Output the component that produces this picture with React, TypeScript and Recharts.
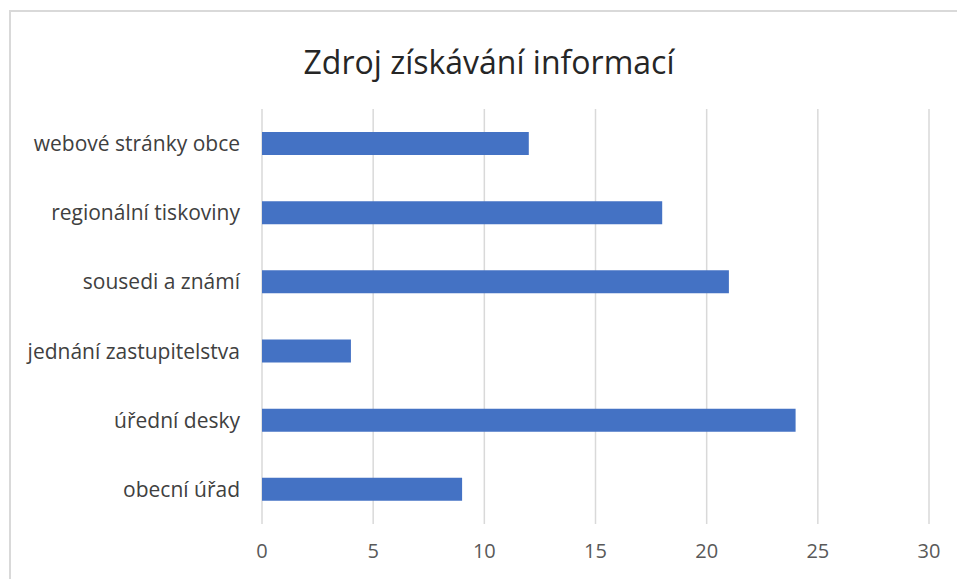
import React from 'react';
import { BarChart, Bar, XAxis, YAxis, CartesianGrid } from 'recharts';

const categories = [
  'webové stránky obce',
  'regionální tiskoviny',
  'sousedi a známí',
  'jednání zastupitelstva',
  'úřední desky',
  'obecní úřad',
];
const counts = [12, 18, 21, 4, 24, 9];
const xTicks = [0, 5, 10, 15, 20, 25, 30];

const data = categories.map((name, i) => ({ name, value: counts[i] }));

const font = '"Open Sans", Lato, sans-serif';

export default function App() {
  return (
    <div style={{ position: 'fixed', left: 0, top: 0, width: 957, height: 579, background: '#fff', overflow: 'hidden', fontFamily: font }}>
      <div
        style={{
          position: 'absolute',
          left: 9,
          top: 10,
          width: 1000,
          height: 700,
          border: '2px solid #d9d9d9',
          boxSizing: 'border-box',
        }}
      />
      <div
        style={{
          position: 'absolute',
          left: 0,
          width: 978,
          top: 40,
          textAlign: 'center',
          fontSize: 32,
          color: '#262626',
        }}
      >
        Zdroj získávání informací
      </div>
      <div style={{ position: 'absolute', left: 0, top: 0 }}>
        <BarChart
          width={957}
          height={579}
          data={data}
          layout="vertical"
          margin={{ top: 109, right: 28, bottom: 25, left: 0 }}
          barCategoryGap={0}
        >
          <CartesianGrid horizontal={false} stroke="#d9d9d9" strokeWidth={1.5} />
          <XAxis
            type="number"
            domain={[0, 30]}
            ticks={xTicks}
            axisLine={false}
            tickLine={false}
            height={30}
            tick={{ fill: '#595959', fontSize: 20, fontFamily: font, dy: 12 }}
          />
          <YAxis
            type="category"
            dataKey="name"
            width={262}
            axisLine={false}
            tickLine={false}
            tickMargin={16}
            tick={{ fill: '#404040', fontSize: 21, fontFamily: font }}
          />
          <Bar dataKey="value" fill="#4472C4" barSize={23} isAnimationActive={false} />
        </BarChart>
      </div>
    </div>
  );
}
